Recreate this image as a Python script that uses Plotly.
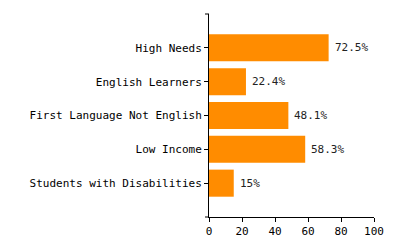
import plotly.graph_objects as go

categories = ["Students with Disabilities", "Low Income", "First Language Not English",
              "English Learners", "High Needs"]
values = [15, 58.3, 48.1, 22.4, 72.5]
labels = ["15%", "58.3%", "48.1%", "22.4%", "72.5%"]
x_ticks = [0, 20, 40, 60, 80, 100]

font = dict(family="DejaVu Sans Mono", size=11, color="black")

fig = go.Figure(go.Bar(
    y=categories, x=values, orientation="h",
    marker=dict(color="#FF8C00", line=dict(width=0)),
    width=0.8,
))

for c, v, t in zip(categories, values, labels):
    fig.add_annotation(x=v, y=c, text=t, showarrow=False, xanchor="left",
                       xshift=4, font=dict(family="DejaVu Sans Mono", size=11, color="#222"))

fig.update_layout(
    width=400, height=250,
    margin=dict(l=209, r=26, t=14, b=30),
    plot_bgcolor="white", paper_bgcolor="white",
    font=font,
    showlegend=False,
    xaxis=dict(range=[0, 100], tickvals=x_ticks, showgrid=False, zeroline=False,
               showline=True, linecolor="black", linewidth=1,
               ticks="outside", ticklen=4, tickcolor="black", tickfont=font),
    yaxis=dict(categoryorder="array", categoryarray=categories, range=[-1, 5],
               showgrid=False, zeroline=False, showline=True, linecolor="black",
               linewidth=1, ticks="outside", ticklen=4, tickcolor="black",
               tickfont=font),
)
fig.add_shape(type="line", xref="paper", yref="paper", x0=0, x1=-4 / 165, y0=1, y1=1,
              line=dict(color="black", width=1))
fig.add_shape(type="line", xref="paper", yref="paper", x0=0, x1=-4 / 165, y0=0, y1=0,
              line=dict(color="black", width=1))

fig.write_html("out.html")
